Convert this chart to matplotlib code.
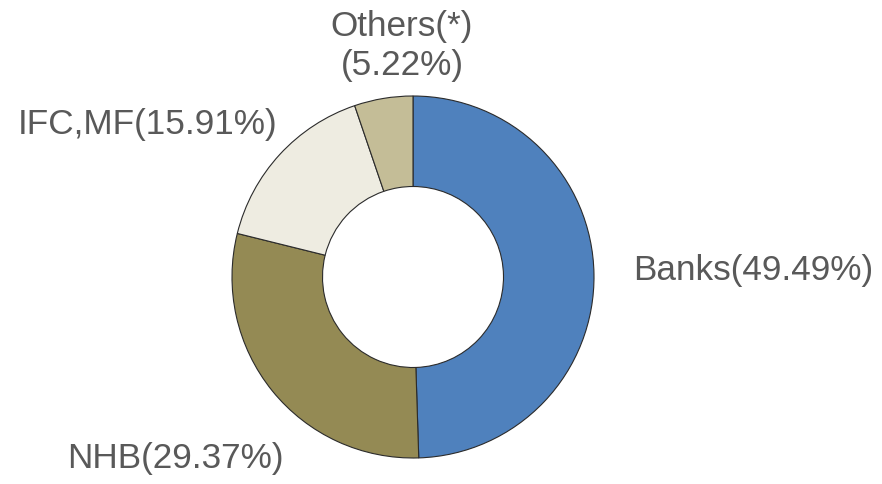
import matplotlib.pyplot as plt

labels = ["Banks", "NHB", "IFC,MF", "Others(*)"]
shares = [49.49, 29.37, 15.91, 5.22]
colors = ["#4F81BD", "#948A54", "#EEECE1", "#C4BD97"]

W, H = 882, 485


def px(x, y):
    # pixel position (from top-left) -> figure fraction
    return x / W, 1 - y / H


fig = plt.figure(figsize=(W / 100, H / 100), dpi=100)
# donut centre ~ (413, 278), radius ~181 px
ax = fig.add_axes([232 / W, 1 - 459 / H, 362 / W, 362 / H])
ax.pie(shares, colors=colors, startangle=90, counterclock=False, radius=1,
       wedgeprops=dict(width=0.5, edgecolor="#2b2b2b", linewidth=0.8))
ax.set_xlim(-1, 1)
ax.set_ylim(-1, 1)
ax.set_aspect("equal")
ax.axis("off")

txt = [f"{labels[0]}({shares[0]:.2f}%)",
       f"{labels[1]}({shares[1]:.2f}%)",
       f"{labels[2]}({shares[2]:.2f}%)",
       f"{labels[3]}\n({shares[3]:.2f}%)"]
# label anchors in pixels: (x, baseline y of last line, ha)
pos = [(633, 280, "left"), (67, 468, "left"), (18, 134, "left"), (402, 75, "center")]

for t, (x, y, ha) in zip(txt, pos):
    fig.text(*px(x, y), t, ha=ha, va="baseline", fontsize=25.3,
             family="Liberation Sans", color="#595959", linespacing=1.24)

fig.savefig("out.png", dpi=100)
